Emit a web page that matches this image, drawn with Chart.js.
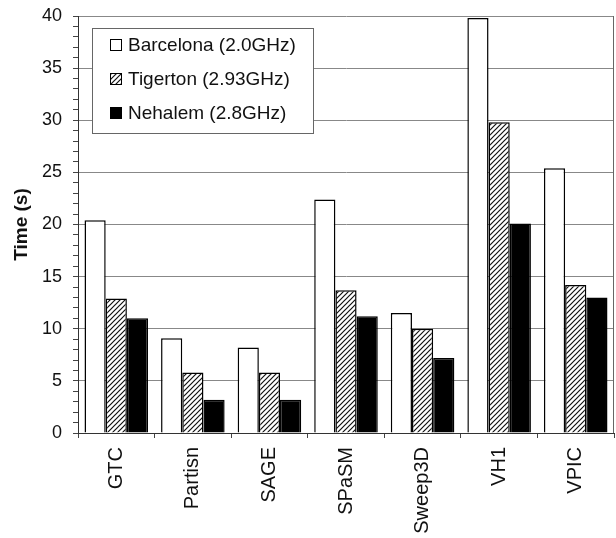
<!DOCTYPE html>
<html>
<head>
<meta charset="utf-8">
<script src="https://cdn.jsdelivr.net/npm/chart.js@4/dist/chart.umd.min.js"></script>
<style>
  html, body { margin: 0; padding: 0; background: #fff; }
  #wrap { width: 616px; height: 538px; }
</style>
</head>
<body>
<div id="wrap"><canvas id="timeChart" width="616" height="538"></canvas></div>
<script>
// Data
const apps = ['GTC', 'Partisn', 'SAGE', 'SPaSM', 'Sweep3D', 'VH1', 'VPIC'];
const barcelona = [20.4, 9.1, 8.2, 22.4, 11.5, 39.8, 25.4];
const tigerton = [12.9, 5.8, 5.8, 13.7, 10.0, 29.8, 14.2];
const nehalem = [11.0, 3.2, 3.2, 11.2, 7.2, 20.1, 13.0];
const seriesNames = ['Barcelona (2.0GHz)', 'Tigerton (2.93GHz)', 'Nehalem (2.8GHz)'];
const yMin = 0, yMax = 40, yMajor = 5;

const FONT = '"Liberation Sans", Arial, sans-serif';

// hatch pattern for Tigerton bars
function makeHatch() {
    const c = document.createElement('canvas');
    c.width = 5; c.height = 5;
    const g = c.getContext('2d');
    g.fillStyle = '#fff';
    g.fillRect(0, 0, 5, 5);
    g.strokeStyle = '#111';
    g.lineWidth = 1.2;
    g.beginPath();
    g.moveTo(-1, 6); g.lineTo(6, -1);
    g.moveTo(-1, 1); g.lineTo(1, -1);
    g.moveTo(4, 6); g.lineTo(6, 4);
    g.stroke();
    return g.createPattern(c, 'repeat');
}
const hatch = makeHatch();

// legend drawn inside the plot, with a frame
const boxedLegend = {
    id: 'boxedLegend',
    afterDatasetsDraw(chart) {
        const ctx = chart.ctx;
        const x0 = 92, y0 = 28, w = 221, h = 105;
        ctx.save();
        ctx.fillStyle = '#fff';
        ctx.fillRect(x0, y0, w, h);
        ctx.strokeStyle = '#666';
        ctx.lineWidth = 1;
        ctx.strokeRect(x0 + 0.5, y0 + 0.5, w, h);
        ctx.font = '19px ' + FONT;
        ctx.textBaseline = 'middle';
        chart.data.datasets.forEach((ds, i) => {
            const cy = 45 + i * 34;
            ctx.fillStyle = ds.backgroundColor;
            ctx.fillRect(110, cy - 6, 12, 12);
            ctx.strokeStyle = '#000';
            ctx.strokeRect(110.5, cy - 5.5, 11, 11);
            ctx.fillStyle = '#111';
            ctx.fillText(ds.label, 128, cy + 1);
        });
        ctx.restore();
    }
};

// right frame line
const frame = {
    id: 'frame',
    beforeDatasetsDraw(chart) {
        const a = chart.chartArea, ctx = chart.ctx;
        ctx.save();
        ctx.strokeStyle = '#666';
        ctx.lineWidth = 1;
        ctx.beginPath();
        ctx.moveTo(a.right - 0.5, a.top);
        ctx.lineTo(a.right - 0.5, a.bottom);
        ctx.stroke();
        ctx.restore();
    }
};

new Chart(document.getElementById('timeChart'), {
    type: 'bar',
    data: {
        labels: apps,
        datasets: [
            { label: seriesNames[0], data: barcelona, backgroundColor: '#fff', borderColor: '#000', borderWidth: 1.5 },
            { label: seriesNames[1], data: tigerton, backgroundColor: hatch, borderColor: '#000', borderWidth: 1.5 },
            { label: seriesNames[2], data: nehalem, backgroundColor: '#000', borderColor: '#000', borderWidth: 1.5 },
        ],
    },
    options: {
        responsive: false,
        animation: false,
        layout: { padding: { top: 16, right: 2, left: 0, bottom: 0 } },
        datasets: { bar: { categoryPercentage: 0.83, barPercentage: 1.0 } },
        plugins: {
            legend: { display: false },
            tooltip: { enabled: false },
        },
        scales: {
            x: {
                grid: { drawOnChartArea: false, tickLength: 5, color: '#444', offset: true },
                border: { color: '#333', width: 1 },
                ticks: {
                    color: '#111',
                    font: { family: FONT, size: 20 },
                    minRotation: 90,
                    maxRotation: 90,
                    padding: 9,
                },
                afterFit: (s) => { s.height = 105; },
            },
            y: {
                min: yMin,
                max: yMax,
                grid: {
                    color: (c) => (c.tick && c.tick.value % yMajor === 0 ? '#888' : 'rgba(0,0,0,0)'),
                    tickColor: '#444',
                    tickLength: 5,
                },
                border: { color: '#333', width: 1 },
                ticks: {
                    stepSize: 1,
                    autoSkip: false,
                    color: '#111',
                    font: { family: FONT, size: 18 },
                    padding: 11,
                    callback: (v) => (v % yMajor === 0 ? v : ''),
                },
                title: {
                    display: true,
                    text: 'Time (s)',
                    color: '#111',
                    font: { family: FONT, size: 19, weight: 'bold' },
                    padding: { top: 10, bottom: 0 },
                },
                afterFit: (s) => { s.width = 78; s.paddingTop = 0; s.paddingBottom = 0; },
            },
        },
    },
    plugins: [frame, boxedLegend],
});
</script>
</body>
</html>
